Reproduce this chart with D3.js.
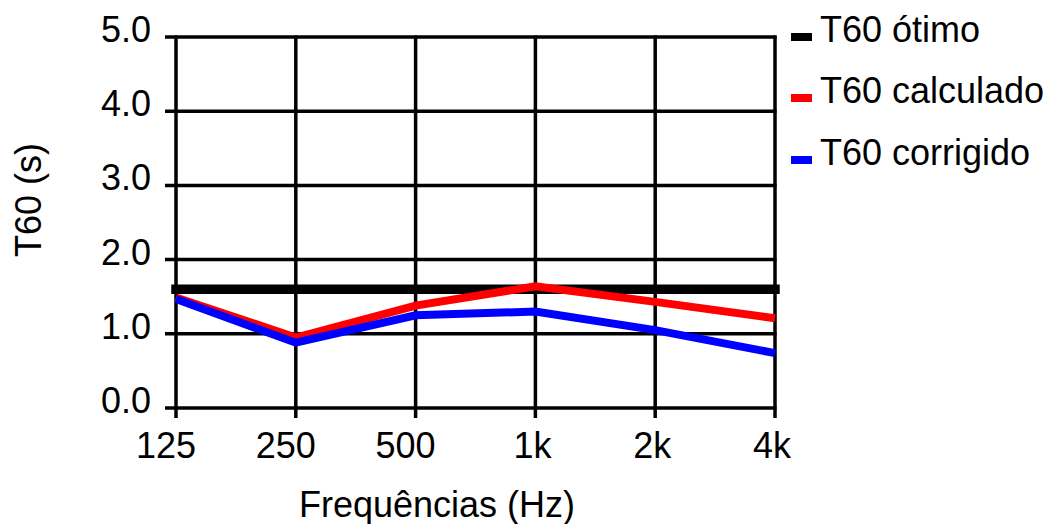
<!DOCTYPE html>
<html>
<head>
<meta charset="utf-8">
<script src="https://cdn.jsdelivr.net/npm/d3@7"></script>
<style>
  html, body { margin: 0; padding: 0; background: #fff; }
  svg { display: block; }
  text { font-family: "Liberation Sans", Arial, sans-serif; fill: #000; }
</style>
</head>
<body>
<script>
const categories = ["125", "250", "500", "1k", "2k", "4k"];
const otimo = [1.60, 1.60, 1.60, 1.60, 1.60, 1.60];
const calculado = [1.49, 0.95, 1.38, 1.64, 1.43, 1.21];
const corrigido = [1.47, 0.88, 1.25, 1.30, 1.05, 0.74];
const yTicks = [0, 1, 2, 3, 4, 5];
const seriesNames = ["T60 ótimo", "T60 calculado", "T60 corrigido"];
const seriesColors = ["#000000", "#ff0000", "#0000ff"];

const W = 1043, H = 524;
const svg = d3.select("body").append("svg").attr("width", W).attr("height", H);

const x = d3.scalePoint().domain(categories).range([176, 775]);
const y = d3.scaleLinear().domain([0, 5]).range([408, 37]);

const fs = 36;

// horizontal gridlines (with outward ticks)
svg.append("g").selectAll("line").data(yTicks).join("line")
  .attr("x1", 165).attr("x2", 776.5)
  .attr("y1", d => y(d)).attr("y2", d => y(d))
  .attr("stroke", "#000").attr("stroke-width", 3.5);

// vertical gridlines (with outward ticks)
svg.append("g").selectAll("line").data(categories).join("line")
  .attr("x1", d => x(d)).attr("x2", d => x(d))
  .attr("y1", 35.5).attr("y2", 418)
  .attr("stroke", "#000").attr("stroke-width", 3.5);

// y tick labels
svg.append("g").selectAll("text").data(yTicks).join("text")
  .attr("x", 151).attr("y", d => y(d) + 5)
  .attr("text-anchor", "end").attr("font-size", fs)
  .text(d => d.toFixed(1));

// x tick labels
svg.append("g").selectAll("text").data(categories).join("text")
  .attr("x", d => x(d) + (d.length === 3 ? -10 : -3)).attr("y", 458)
  .attr("text-anchor", "middle").attr("font-size", fs)
  .text(d => d);

// axis titles
svg.append("text").attr("x", 437).attr("y", 517)
  .attr("text-anchor", "middle").attr("font-size", fs)
  .text("Frequências (Hz)");
svg.append("text")
  .attr("transform", "translate(41,200) rotate(-90)")
  .attr("text-anchor", "middle").attr("font-size", fs)
  .text("T60 (s)");

// series lines
const line = d3.line().x((d, i) => x(categories[i])).y(d => y(d));
const allSeries = [otimo, calculado, corrigido];
const widths = [9.5, 8, 8];
allSeries.forEach((s, k) => {
  svg.append("path").datum(s)
    .attr("d", line)
    .attr("fill", "none")
    .attr("stroke", seriesColors[k])
    .attr("stroke-width", widths[k])
    .attr("stroke-linecap", k === 0 ? "square" : "butt")
    .attr("stroke-linejoin", "miter");
});

// legend
const legY = [37, 98, 160];
const leg = svg.append("g");
seriesNames.forEach((n, k) => {
  leg.append("line")
    .attr("x1", 791).attr("x2", 812)
    .attr("y1", legY[k]).attr("y2", legY[k])
    .attr("stroke", seriesColors[k]).attr("stroke-width", 8);
  leg.append("text")
    .attr("x", 820).attr("y", legY[k] + 5)
    .attr("font-size", fs)
    .text(n);
});
</script>
</body>
</html>
